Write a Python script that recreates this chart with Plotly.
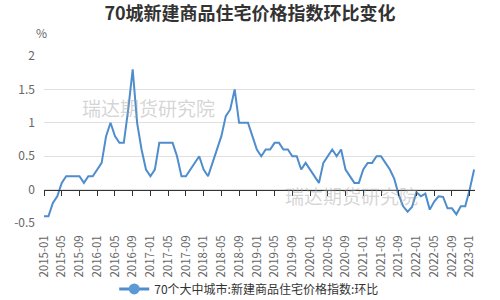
import plotly.graph_objects as go

title_text = "70城新建商品住宅价格指数环比变化"
series_name = "70个大中城市:新建商品住宅价格指数:环比"
watermark = "瑞达期货研究院"

months = [f"{y}-{m:02d}" for y in range(2015, 2024) for m in range(1, 13)][:98]

v2015 = [-0.4, -0.4, -0.2, -0.1, 0.1, 0.2, 0.2, 0.2, 0.2, 0.1, 0.2, 0.2]
v2016 = [0.3, 0.4, 0.8, 1.0, 0.8, 0.7, 0.7, 1.2, 1.8, 1.0, 0.6, 0.3]
v2017 = [0.2, 0.3, 0.7, 0.7, 0.7, 0.7, 0.5, 0.2, 0.2, 0.3, 0.4, 0.5]
v2018 = [0.3, 0.2, 0.4, 0.6, 0.8, 1.1, 1.2, 1.5, 1.0, 1.0, 1.0, 0.8]
v2019 = [0.6, 0.5, 0.6, 0.6, 0.7, 0.7, 0.6, 0.6, 0.5, 0.5, 0.3, 0.4]
v2020 = [0.3, 0.2, 0.1, 0.4, 0.5, 0.6, 0.5, 0.6, 0.3, 0.2, 0.1, 0.1]
v2021 = [0.3, 0.4, 0.4, 0.5, 0.5, 0.4, 0.3, 0.16, -0.08, -0.25, -0.33, -0.26]
v2022 = [-0.04, -0.1, -0.06, -0.3, -0.18, -0.1, -0.11, -0.28, -0.28, -0.37, -0.25, -0.25]
v2023 = [0.0, 0.3]
values = v2015 + v2016 + v2017 + v2018 + v2019 + v2020 + v2021 + v2022 + v2023

tick_labels = months[::4]
y_ticks = [-0.5, 0, 0.5, 1, 1.5, 2]
y_tick_text = ["-0.5", "0", "0.5", "1", "1.5", "2"]

color = "#4f8dcd"
font_family = "Noto Sans CJK SC"

fig = go.Figure()
fig.add_trace(go.Scatter(x=months, y=values, mode="lines",
                         line=dict(color=color, width=2),
                         showlegend=False, hoverinfo="skip"))
# legend entry
fig.add_trace(go.Scatter(x=[None], y=[None], mode="lines+markers", name=series_name,
                         line=dict(color=color, width=3),
                         marker=dict(color="#5b9bd5", size=11)))
# axis at zero (helper trace on x2)
fig.add_trace(go.Scatter(x=months, y=values, xaxis="x2", mode="lines",
                         line=dict(color="rgba(0,0,0,0)", width=0),
                         showlegend=False, hoverinfo="skip"))

fig.update_layout(
    width=500, height=300,
    margin=dict(l=44, r=25, t=56, b=77, autoexpand=False),
    paper_bgcolor="white", plot_bgcolor="white",
    font=dict(family=font_family, color="#666", size=12),
    title=dict(text="<b>" + title_text + "</b>", x=0.5, xanchor="center",
               y=0.955, yanchor="middle",
               font=dict(size=18, color="#333", family=font_family)),
    xaxis=dict(type="category", categoryorder="array", categoryarray=months,
               range=[0, 97.2], tickmode="array", tickvals=tick_labels, ticktext=tick_labels,
               tickangle=-90, ticks="", showgrid=False, showline=False, zeroline=False,
               automargin=False,
               tickfont=dict(size=11.5, color="#666"), ticklabelstandoff=9),
    xaxis2=dict(type="category", categoryorder="array", categoryarray=months,
                overlaying="x", anchor="free", position=0.2, matches="x",
                tickmode="array", tickvals=tick_labels, showticklabels=False,
                ticks="outside", ticklen=5, tickcolor="#333", tickwidth=1, automargin=False,
                showline=True, linecolor="#333", linewidth=1, showgrid=False, zeroline=False),
    yaxis=dict(range=[-0.5, 2], tickmode="array", tickvals=y_ticks, ticktext=y_tick_text,
               showgrid=True, gridcolor="#e0e0e0", gridwidth=1, zeroline=False,
               showline=False, ticks="", tickfont=dict(size=12, color="#666"),
               ticklabelstandoff=8, automargin=False),
    legend=dict(orientation="h", x=0.475, xanchor="center", y=-0.395, yanchor="middle",
                font=dict(size=12, color="#333"), bgcolor="rgba(0,0,0,0)"),
    annotations=[
        dict(text="%", xref="paper", yref="paper", x=-0.005, y=(223 - 33) / 167,
             xanchor="center", yanchor="middle", showarrow=False,
             font=dict(size=12, color="#666")),
        dict(text=watermark, xref="paper", yref="paper", x=(80 - 44) / 431, y=(223 - 107) / 167,
             xanchor="left", yanchor="middle", showarrow=False,
             font=dict(size=19, color="rgba(160,160,160,0.45)")),
        dict(text=watermark, xref="paper", yref="paper", x=(283 - 44) / 431, y=(223 - 195) / 167,
             xanchor="left", yanchor="middle", showarrow=False,
             font=dict(size=19, color="rgba(160,160,160,0.45)")),
    ],
)

fig.write_html("out.html")
